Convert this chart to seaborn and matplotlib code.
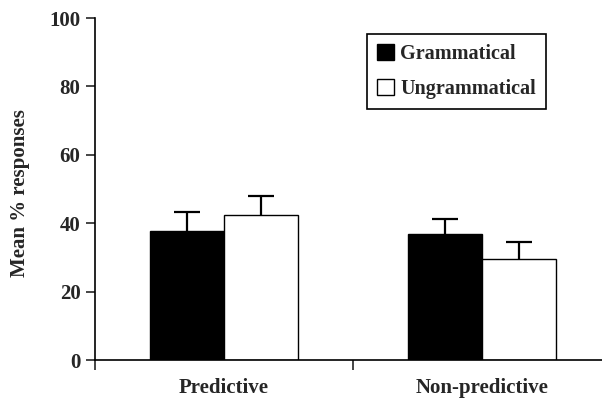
import matplotlib
matplotlib.use("Agg")
import matplotlib.pyplot as plt
import seaborn as sns
import pandas as pd

# values
conditions = ["Predictive", "Non-predictive"]
groups = ["Grammatical", "Ungrammatical"]
gram_mean = [37.7, 36.8]
ungram_mean = [42.4, 29.5]
gram_err = [5.5, 4.4]
ungram_err = [5.6, 5.1]

df = pd.DataFrame({
    "Condition": conditions * 2,
    "Group": [groups[0]] * 2 + [groups[1]] * 2,
    "Mean": gram_mean + ungram_mean,
    "Err": gram_err + ungram_err,
})

sns.set_style("white")
plt.rcParams["font.family"] = ["Liberation Serif", "DejaVu Serif"]
plt.rcParams["font.weight"] = "bold"

fig = plt.figure(figsize=(6.02, 3.98), dpi=100)
ax = fig.add_axes([95 / 602, 38 / 398, (602 - 95) / 602, 342 / 398])

sns.barplot(data=df, x="Condition", y="Mean", hue="Group", order=conditions,
            hue_order=groups, palette=["black", "white"], width=0.574,
            edgecolor="black", linewidth=1.0, errorbar=None, ax=ax)

# upward-only error bars (stem + top cap)
cap = 0.05
for bars, g in zip(ax.containers, groups):
    sub = df[df["Group"] == g].set_index("Condition").loc[conditions]
    for b, m, e in zip(bars, sub["Mean"], sub["Err"]):
        xc = b.get_x() + b.get_width() / 2
        ax.vlines(xc, m, m + e, color="black", lw=1.6, zorder=3)
        ax.hlines(m + e, xc - cap, xc + cap, color="black", lw=1.6, zorder=3)

fs = 15
ax.set_ylim(0, 100)
ax.set_xlim(-0.5, 1.465)
ax.set_yticks([0, 20, 40, 60, 80, 100])
ax.set_xticks([-0.5, 0.5], minor=False)
ax.set_xticklabels([])
ax.set_xticks([0, 1], minor=True)
ax.set_xticklabels(conditions, minor=True, fontsize=fs, fontweight="bold")
ax.tick_params(axis="x", which="major", direction="out", length=7, width=1.2,
               bottom=True)
ax.tick_params(axis="x", which="minor", length=0, pad=13)
ax.tick_params(axis="y", direction="out", length=6.5, width=1.2, left=True,
               labelsize=fs, pad=4)
for lab in ax.get_yticklabels():
    lab.set_fontweight("bold")

ax.set_xlabel("")
ax.set_ylabel("Mean % responses", fontsize=fs, fontweight="bold")
ax.yaxis.set_label_coords(-0.128, 0.488)

for s in ["top", "right"]:
    ax.spines[s].set_visible(False)
for s in ["left", "bottom"]:
    ax.spines[s].set_color("black")
    ax.spines[s].set_linewidth(1.2)

leg = ax.legend(loc="upper left",
                bbox_to_anchor=((367 - 95) / 507, (360 - 34) / 342),
                frameon=True, fancybox=False, edgecolor="black",
                prop={"size": 14.5, "weight": "bold"}, handlelength=0.85,
                handleheight=0.85, handletextpad=0.3, borderpad=0.5,
                labelspacing=0.75, borderaxespad=0)
leg.get_frame().set_linewidth(1.2)
leg.get_frame().set_alpha(1)

fig.savefig("out.png", dpi=100)
